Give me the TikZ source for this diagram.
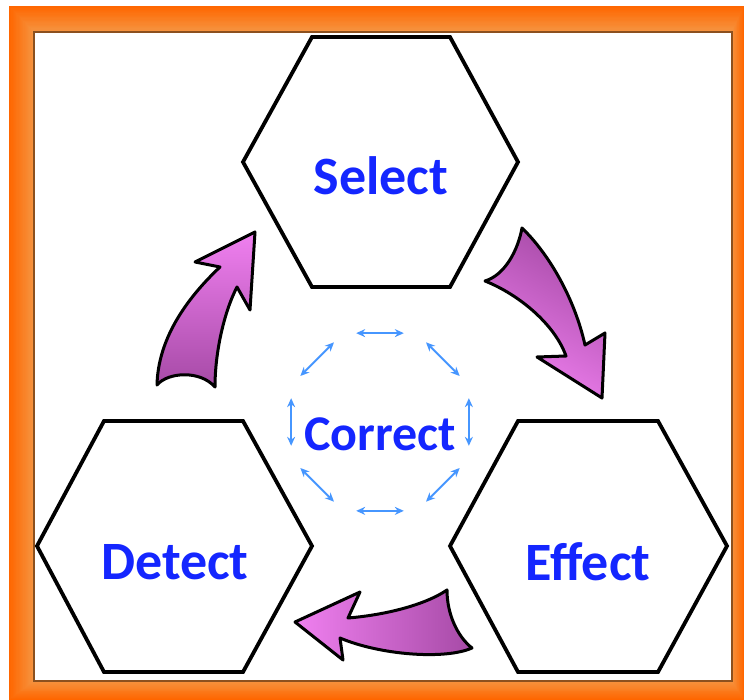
\documentclass[tikz,border=0pt]{standalone}
\usepackage{fontspec}
\setmainfont{Carlito}
\usetikzlibrary{arrows.meta,calc}
\definecolor{txtblue}{RGB}{20,38,255}
\definecolor{ringblue}{RGB}{70,150,255}
\definecolor{orA}{RGB}{255,102,0}
\definecolor{orD}{RGB}{245,148,64}
\definecolor{frameline}{RGB}{140,80,30}
\definecolor{purpdark}{RGB}{166,74,166}
\definecolor{purplight}{RGB}{240,128,240}
\tikzset{
  hexa/.style={draw=black, line width=3.8pt, line join=miter, fill=white},
  lbl/.style={text=txtblue, font=\fontsize{54}{60}\selectfont\bfseries},
  clbl/.style={text=txtblue, font=\fontsize{50}{56}\selectfont\bfseries},
  blockarrow/.style={draw=black, line width=3pt, line join=round},
  ringarrow/.style={draw=ringblue, line width=2pt, {Stealth[length=9pt,width=8pt]}-{Stealth[length=9pt,width=8pt]}},
}
\begin{document}
\begin{tikzpicture}[x=1pt,y=-1pt]
\useasboundingbox (0,0) rectangle (744,700);
\fill[white] (0,0) rectangle (744,700);
% orange frame with soft inner glow
\foreach \i in {0,...,20}{
  \pgfmathsetmacro{\t}{\i/20}
  \pgfmathsetmacro{\pc}{100-5*\i}
  \fill[orA!\pc!orD] ({9+24*\t},{6+25*\t}) rectangle ({744-12*\t},{700-19*\t});
}
\draw[frameline, line width=1.5pt, fill=white] (34,32) rectangle (732,681);
% hexagons
\draw[hexa] (312,37) -- (450,37) -- (518,162) -- (450,287) -- (312,287) -- (243,162) -- cycle;
\draw[hexa] (104,421) -- (243,421) -- (312,546) -- (243,672) -- (104,672) -- (37,546) -- cycle;
\draw[hexa] (518,421) -- (658,421) -- (727,546) -- (658,672) -- (518,672) -- (450,546) -- cycle;
\node[lbl] (select) at (381,176) {Select};
\node[lbl] (detect) at (175,562) {Detect};
\node[lbl] (effect) at (588,562) {Effect};
% correct ring
\coordinate (ring) at (380,422);
\node[clbl] (correct) at (380,434) {Correct};
\foreach \a in {0,45,...,315}{
  \draw[ringarrow] ($(ring)+(\a-15:92)$) -- ($(ring)+(\a+15:92)$);
}
% block arrows
\draw[blockarrow, top color=purpdark, bottom color=purplight, shading angle=-30]
  (485,281) .. controls (520,295) and (555,325) .. (566,356)
  -- (537,357) -- (602,398) -- (605,333) -- (585,345)
  .. controls (575,300) and (550,255) .. (522,228)
  .. controls (518,250) and (505,275) .. (485,281) -- cycle;
\draw[blockarrow, left color=purplight, right color=purpdark]
  (295,622) -- (360,592) -- (348,618)
  .. controls (385,615) and (425,605) .. (447,590)
  .. controls (447,615) and (458,637) .. (472,648)
  .. controls (445,660) and (380,655) .. (340,638)
  -- (343,660) -- cycle;
\draw[blockarrow, top color=purplight, bottom color=purpdark]
  (255,232) -- (195,262) -- (220,267)
  .. controls (185,300) and (158,340) .. (157,385)
  .. controls (168,372) and (200,370) .. (215,387)
  .. controls (215,350) and (225,310) .. (237,287)
  -- (250,310) -- cycle;
\end{tikzpicture}
\end{document}
